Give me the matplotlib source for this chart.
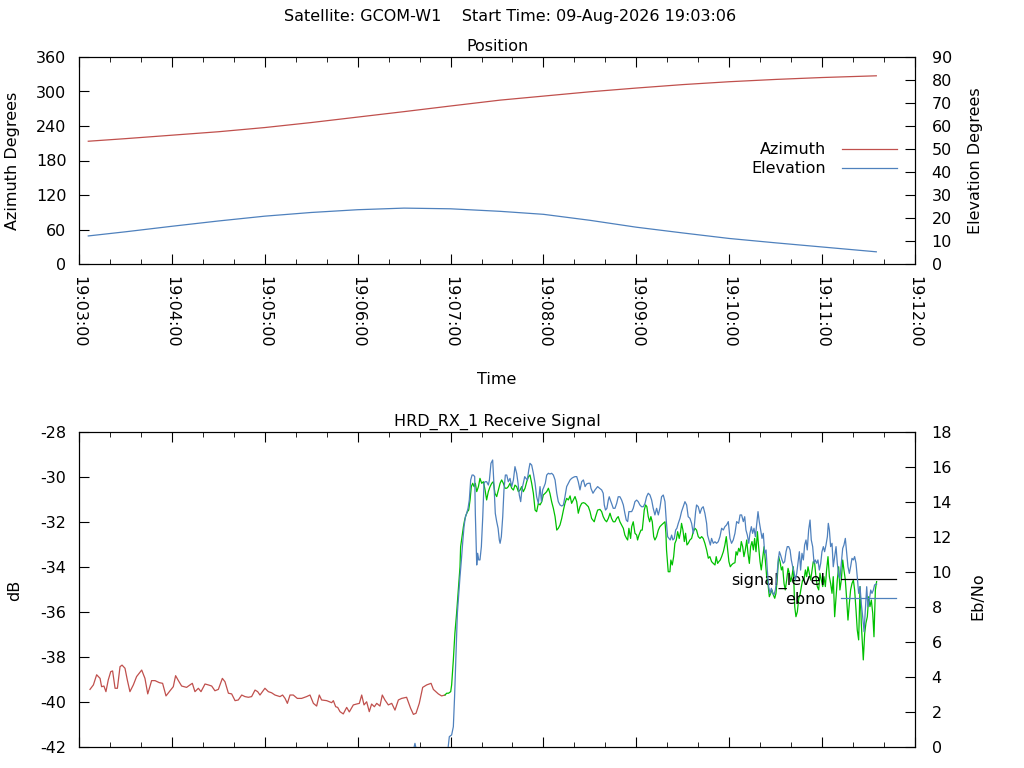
import matplotlib
matplotlib.use("Agg")
import matplotlib.pyplot as plt
import numpy as np
from matplotlib.ticker import MultipleLocator, FuncFormatter

# pass info
satellite = "GCOM-W1"
start_time = "09-Aug-2026 19:03:06"
receiver = "HRD_RX_1"

# position data, time in seconds after 19:03:00
pos_time = [6, 30, 60, 90, 120, 150, 180, 210, 240, 272, 300, 330, 360, 390, 420, 450, 480, 515]
azimuth = [213.5, 218, 224, 230, 237.3, 246, 255.5, 265, 274.8, 285, 292, 299.5, 306, 312, 317, 321, 324.3, 327.3]
elevation = [12.2, 14.0, 16.4, 18.7, 20.8, 22.4, 23.6, 24.3, 24.0, 22.9, 21.6, 19.0, 16.0, 13.5, 11.1, 9.2, 7.4, 5.3]

# signal level before lock (red)
unlocked_time = [7.1, 9.3, 11.4, 13.6, 14.6, 16.1, 17.4, 18.9, 20.5, 21.7, 23.3, 24.8, 26.5, 27.8, 29.7,
                 31.2, 32.9, 35.1, 37.2, 40.5, 42.6, 44.4, 46.9, 49.1, 51.9, 54.0, 56.2, 58.8, 60.9, 62.4,
                 64.2, 66.3, 69.5, 71.7, 73.2, 74.9, 77.1, 78.8, 81.4, 83.5, 85.7, 87.8, 90.0, 92.6, 94.3,
                 96.5, 98.6, 100.8, 102.9, 105.1, 107.2, 109.4, 111.5, 113.7, 115.4, 116.9, 120.1, 122.3,
                 124.4, 126.6, 129.8, 131.5, 133.1, 134.6, 136.3, 138.4, 141.0, 143.8, 147.0, 149.2, 151.4,
                 153.5, 155.2, 156.7, 160.0, 163.2, 164.3, 165.8, 167.1, 168.6, 170.7, 172.9, 174.6, 177.2,
                 179.3, 181.1, 182.6, 184.1, 185.8, 187.5, 189.0, 190.8, 192.3, 194.4, 195.9, 197.6, 199.8,
                 202.0, 204.1, 206.3, 208.4, 211.6, 214.2, 216.0, 217.7, 219.8, 222.0, 224.6, 227.4, 228.9,
                 232.1, 234.2, 236.4]
unlocked_db = [-39.44, -39.24, -38.79, -38.95, -39.32, -39.29, -39.54, -39.02, -38.65, -38.62, -39.39, -39.39,
               -38.43, -38.36, -38.50, -39.02, -39.54, -39.24, -38.87, -38.58, -38.95, -39.64, -39.05, -39.05,
               -39.14, -39.17, -39.73, -39.50, -39.32, -38.83, -39.05, -39.29, -39.35, -39.24, -39.17, -39.54,
               -39.39, -39.54, -39.20, -39.24, -39.29, -39.50, -39.44, -38.95, -39.10, -39.61, -39.64, -39.94,
               -39.91, -39.69, -39.76, -39.79, -39.76, -39.47, -39.54, -39.69, -39.39, -39.54, -39.59, -39.69,
               -39.76, -39.69, -39.84, -40.06, -39.69, -39.69, -39.84, -39.84, -39.76, -39.69, -40.06, -40.18,
               -39.69, -39.91, -39.94, -40.03, -39.94, -40.21, -40.24, -40.43, -40.53, -40.24, -40.44, -40.13,
               -40.09, -40.06, -39.69, -40.13, -39.99, -40.43, -40.09, -40.21, -40.06, -40.18, -39.69, -39.91,
               -40.13, -40.06, -40.36, -39.91, -39.84, -39.79, -40.28, -40.55, -40.50, -40.06, -39.35, -39.24,
               -39.17, -39.44, -39.64, -39.73, -39.69]

# signal level after lock (green)
locked_time = [236.4, 237.5, 238.7, 240.1, 240.7, 241.8, 242.8, 243.9, 245.0, 246.1, 246.5, 247.4, 248.3,
               249.1, 250.0, 250.9, 251.7, 252.6, 253.4, 254.3, 255.2, 256.0, 256.9, 258.0, 259.0, 260.1,
               261.2, 262.3, 263.3, 264.4, 265.5, 266.6, 267.6, 268.7, 269.8, 270.9, 272.0, 273.0, 274.1,
               275.2, 276.3, 277.3, 278.4, 279.5, 280.6, 281.6, 282.7, 283.8, 284.9, 285.9, 287.0, 288.1,
               289.2, 290.3, 291.3, 292.4, 293.5, 294.6, 295.6, 296.7, 297.8, 298.9, 299.9, 301.0, 302.1,
               303.2, 304.2, 305.3, 306.4, 307.5, 308.6, 309.6, 310.7, 311.8, 312.9, 313.9, 315.0, 316.1,
               317.2, 318.2, 319.3, 320.4, 321.5, 322.5, 323.6, 324.7, 325.8, 326.9, 327.9, 329.0, 330.1,
               331.1, 332.8, 333.7, 335.0, 336.5, 337.6, 338.6, 339.7, 340.8, 341.9, 343.0, 344.0, 345.1,
               346.2, 347.3, 348.3, 349.4, 350.5, 351.6, 352.6, 353.7, 354.4, 355.2, 356.3, 357.0, 358.0,
               359.1, 360.2, 360.8, 361.7, 363.0, 363.8, 364.5, 365.1, 366.0, 366.8, 367.7, 368.6, 369.4,
               370.3, 371.2, 372.0, 373.1, 374.2, 375.2, 376.3, 377.4, 378.5, 379.1, 379.5, 380.6, 381.7,
               382.3, 383.2, 384.1, 384.9, 385.8, 386.7, 387.7, 388.6, 389.2, 390.1, 391.0, 391.8, 392.7,
               393.5, 394.6, 395.7, 396.8, 397.9, 398.9, 400.0, 401.1, 402.2, 403.2, 404.3, 405.4, 406.5,
               407.5, 408.6, 409.7, 410.8, 411.6, 412.5, 413.3, 414.2, 415.1, 416.2, 417.2, 418.1, 419.0,
               419.8, 420.7, 421.5, 422.6, 423.7, 424.4, 425.2, 426.1, 427.0, 427.8, 428.7, 429.5, 430.4,
               431.3, 432.1, 433.0, 433.8, 434.7, 435.6, 436.4, 437.3, 438.2, 439.0, 439.9, 440.7, 441.6,
               442.5, 443.3, 444.2, 445.0, 445.9, 446.8, 447.6, 448.5, 449.4, 450.2, 451.1, 451.9, 452.8,
               453.7, 454.5, 455.4, 456.2, 457.1, 458.0, 458.8, 459.7, 460.5, 461.4, 462.3, 463.1, 464.0,
               464.9, 465.7, 466.6, 467.4, 468.3, 469.2, 470.0, 470.9, 471.7, 472.6, 473.5, 474.3, 475.2,
               476.0, 476.9, 477.8, 478.6, 479.5, 480.4, 481.2, 482.1, 482.9, 483.8, 484.7, 485.5, 486.4,
               487.2, 488.1, 489.0, 489.8, 490.7, 491.5, 492.4, 493.3, 494.1, 495.0, 495.9, 496.7, 497.6,
               498.4, 499.3, 500.2, 501.0, 501.9, 502.7, 503.6, 504.5, 505.3, 506.2, 506.6, 507.5, 508.3,
               509.2, 510.1, 510.9, 511.8, 512.7, 513.5, 514.4, 515.2]
locked_db = [-39.69, -39.61, -39.61, -39.54, -39.24, -38.13, -36.95, -36.06, -35.02, -33.99, -33.10, -32.65, -32.21,
             -31.91, -31.69, -31.54, -31.47, -31.02, -30.43, -30.28, -30.43, -30.28, -30.65, -30.43, -30.06, -30.28,
             -30.21, -30.58, -31.02, -30.65, -30.43, -30.28, -30.21, -30.73, -30.87, -30.58, -30.28, -30.13, -30.28,
             -30.50, -30.50, -30.43, -30.28, -30.50, -30.58, -30.36, -30.43, -30.65, -30.58, -30.43, -30.65, -30.50,
             -30.21, -29.99, -29.91, -30.28, -30.73, -31.47, -31.54, -31.17, -31.24, -31.10, -30.80, -30.73, -30.65,
             -30.50, -30.73, -31.10, -31.39, -31.76, -32.36, -32.28, -32.13, -31.84, -31.47, -31.17, -30.95, -31.02,
             -30.84, -31.17, -31.02, -30.87, -31.10, -31.61, -31.32, -31.17, -31.14, -31.17, -31.24, -31.32, -31.54,
             -31.84, -31.99, -31.76, -31.47, -31.44, -31.54, -31.76, -31.91, -31.99, -31.84, -31.61, -31.84, -31.99,
             -31.99, -31.84, -31.76, -31.99, -32.13, -32.28, -32.58, -32.73, -32.80, -32.28, -32.73, -32.21, -31.99,
             -32.50, -32.58, -32.80, -32.58, -32.36, -32.36, -31.91, -31.47, -31.24, -31.32, -31.76, -31.99, -31.76,
             -31.99, -32.65, -32.80, -32.65, -32.36, -32.21, -32.13, -32.06, -31.99, -32.50, -33.24, -34.21, -34.21,
             -33.69, -33.91, -33.54, -32.95, -32.80, -32.43, -32.73, -32.43, -32.06, -32.36, -32.87, -32.50, -33.02,
             -32.95, -32.80, -32.73, -32.43, -32.28, -32.36, -32.65, -32.73, -32.65, -32.73, -32.95, -33.24, -33.61,
             -33.54, -33.76, -33.84, -33.91, -33.54, -33.84, -33.76, -33.69, -33.54, -33.32, -33.02, -32.65, -33.24,
             -33.76, -33.99, -33.91, -33.84, -33.81, -33.32, -33.47, -33.17, -33.32, -32.87, -33.10, -33.54, -33.24,
             -32.80, -33.39, -33.84, -33.10, -32.87, -33.24, -32.73, -33.32, -32.43, -33.10, -33.76, -34.13, -33.61,
             -33.10, -33.69, -34.43, -34.73, -35.32, -35.17, -35.02, -35.24, -35.39, -35.17, -34.43, -33.54, -33.76,
             -34.13, -33.99, -34.73, -35.02, -34.58, -34.06, -34.28, -34.65, -34.43, -33.99, -35.76, -36.21, -35.99,
             -35.39, -35.24, -34.87, -34.58, -34.58, -34.13, -34.43, -33.99, -34.28, -34.58, -34.13, -33.76, -33.84,
             -34.43, -34.87, -35.02, -34.28, -34.58, -34.87, -34.43, -34.87, -34.13, -33.54, -34.43, -34.73, -35.17,
             -34.43, -36.21, -35.32, -34.58, -33.99, -35.02, -34.58, -33.69, -34.13, -34.58, -35.47, -36.36, -35.61,
             -35.02, -34.73, -34.58, -35.02, -35.91, -36.80, -37.24, -34.87, -36.50, -37.69, -38.13, -36.95, -36.50,
             -36.21, -35.32, -35.76, -35.47, -36.06, -37.10, -35.02, -34.65]

# Eb/No (values below 0 before lock are clipped off the plot)
ebno_time = [7, 60, 120, 180, 214.5, 217.0, 219.5, 237.0, 238.5, 239.2, 240.7, 241.8, 242.6, 243.5, 244.4, 245.3,
             246.1, 247.0, 247.8, 248.7, 249.6, 250.4, 251.3, 252.1, 253.0, 253.9, 254.7, 255.6, 256.0, 256.5,
             256.9, 257.5, 258.2, 259.0, 259.9, 260.8, 261.6, 262.3, 263.3, 264.4, 265.1, 265.5, 266.1, 267.2,
             268.1, 268.9, 269.8, 270.7, 271.5, 272.0, 272.8, 273.7, 274.5, 275.4, 276.3, 277.3, 278.4, 279.5,
             280.6, 281.6, 282.7, 283.6, 284.4, 285.3, 286.2, 287.0, 287.9, 288.7, 289.6, 290.5, 291.3, 292.4,
             293.5, 294.6, 295.6, 296.7, 297.8, 298.7, 299.5, 300.4, 301.2, 302.1, 303.2, 304.2, 305.3, 306.4,
             307.5, 308.6, 309.6, 310.7, 311.8, 312.9, 313.9, 315.0, 316.1, 317.2, 318.2, 319.3, 320.4, 321.5,
             322.5, 323.6, 324.7, 325.8, 326.9, 327.9, 329.0, 330.1, 330.7, 332.0, 333.3, 335.0, 336.3, 337.6,
             338.6, 339.3, 340.1, 341.0, 341.9, 342.5, 343.2, 344.0, 345.1, 346.2, 347.3, 348.3, 349.4, 350.5,
             351.6, 352.6, 353.5, 354.4, 355.2, 356.1, 357.0, 358.0, 359.1, 360.2, 361.2, 362.3, 363.4, 364.5,
             365.6, 366.6, 367.7, 368.8, 369.9, 370.9, 372.0, 373.1, 374.2, 375.2, 376.3, 377.4, 378.5, 379.3,
             380.2, 381.1, 381.9, 382.8, 383.6, 384.5, 385.4, 386.2, 387.1, 388.2, 389.2, 390.3, 391.4, 392.5,
             393.5, 394.6, 395.7, 396.8, 397.4, 398.3, 398.9, 400.0, 401.1, 402.2, 403.2, 404.3, 405.4, 406.0,
             406.9, 407.8, 408.6, 409.7, 410.8, 411.8, 412.9, 414.0, 415.1, 416.2, 417.2, 418.3, 419.4, 420.5,
             421.5, 422.6, 423.7, 424.8, 426.1, 427.0, 428.0, 429.1, 430.0, 430.8, 431.7, 432.6, 433.4, 434.3,
             435.1, 436.0, 436.9, 437.7, 438.6, 439.4, 440.3, 441.2, 442.0, 442.9, 443.8, 444.6, 445.5, 446.3,
             447.2, 448.1, 448.9, 449.8, 450.6, 451.5, 452.4, 453.2, 454.1, 454.9, 455.8, 456.7, 457.5, 458.4,
             459.3, 460.1, 461.0, 461.8, 462.7, 463.6, 464.4, 465.3, 466.1, 467.0, 467.9, 468.7, 469.6, 470.4,
             471.3, 472.2, 473.0, 473.9, 474.8, 475.6, 476.5, 477.3, 478.2, 479.1, 479.9, 480.8, 481.6, 482.5,
             483.4, 484.0, 484.7, 485.5, 486.4, 487.2, 488.1, 489.0, 489.8, 490.7, 491.5, 492.4, 493.3, 494.1,
             495.0, 495.9, 496.7, 497.6, 498.4, 499.3, 500.2, 501.0, 501.9, 502.7, 503.6, 504.5, 505.3, 506.2,
             507.1, 507.9, 508.8, 509.6, 510.5, 511.4, 512.2, 513.1, 513.9, 514.8, 515.2]
ebno = [-1.0, -1.0, -1.0, -1.0, -0.8, 0.21, -0.8, -0.5, 0.02, 0.59, 0.69, 1.16, 2.88, 5.35, 7.64, 8.78,
        9.73, 10.69, 11.64, 12.59, 13.16, 13.35, 13.64, 14.11, 15.26, 15.54, 15.54, 15.45, 13.35, 11.83,
        10.40, 11.07, 10.69, 10.69, 11.45, 13.16, 15.07, 15.16, 15.16, 14.97, 15.26, 15.64, 16.21, 16.40,
        14.88, 13.35, 12.88, 12.50, 11.83, 11.64, 12.02, 13.16, 14.69, 15.54, 15.54, 15.16, 15.35, 14.88,
        15.26, 16.02, 15.64, 15.07, 14.40, 14.02, 14.78, 15.07, 15.45, 15.35, 15.26, 15.83, 16.21, 16.11,
        15.64, 15.07, 14.30, 13.92, 14.88, 14.02, 14.69, 14.88, 15.07, 15.54, 15.64, 15.60, 15.64, 15.54,
        15.26, 14.50, 14.02, 13.83, 13.77, 13.83, 14.30, 14.88, 15.07, 15.26, 15.35, 15.41, 15.45, 15.45,
        15.16, 14.69, 15.16, 15.26, 14.88, 15.03, 15.07, 15.07, 14.78, 14.50, 14.69, 14.88, 14.78, 14.69,
        14.50, 13.83, 13.54, 13.64, 14.11, 14.30, 14.11, 13.92, 13.64, 13.64, 13.92, 14.30, 14.30, 14.11,
        13.83, 13.35, 12.97, 12.88, 13.45, 13.45, 13.45, 13.64, 14.02, 14.11, 14.02, 13.83, 13.73, 13.73,
        13.92, 14.30, 14.50, 14.40, 14.11, 13.64, 13.26, 13.64, 13.26, 13.64, 14.30, 14.40, 14.02, 12.97,
        12.02, 11.92, 11.83, 12.11, 11.83, 11.92, 12.40, 12.50, 12.78, 13.07, 13.45, 13.73, 14.02, 13.83,
        13.16, 13.07, 12.78, 12.21, 12.59, 13.45, 13.83, 13.73, 13.35, 13.64, 13.73, 13.35, 12.78, 12.11,
        11.83, 11.54, 11.92, 11.64, 11.73, 11.64, 11.73, 12.02, 12.50, 12.40, 12.59, 12.69, 12.88, 11.92,
        11.64, 11.83, 12.21, 12.88, 12.78, 13.26, 13.26, 12.88, 13.16, 12.40, 12.11, 11.64, 12.21, 12.59,
        12.21, 12.50, 12.02, 12.69, 13.45, 12.88, 12.40, 11.92, 12.21, 11.07, 11.26, 10.11, 9.16, 8.78,
        9.07, 8.78, 8.69, 8.97, 9.54, 10.50, 11.16, 10.97, 10.69, 10.50, 10.59, 11.16, 11.45, 11.45,
        11.26, 10.69, 10.30, 10.02, 9.54, 9.92, 10.50, 11.16, 10.11, 11.07, 10.69, 11.54, 11.83, 11.26,
        12.40, 12.97, 11.83, 11.45, 10.50, 10.69, 10.50, 10.69, 10.11, 10.50, 11.16, 11.45, 11.16, 11.54,
        12.02, 12.78, 12.40, 11.45, 11.64, 10.30, 10.88, 11.45, 10.50, 9.83, 9.64, 10.50, 11.35, 11.54,
        11.92, 11.07, 10.30, 9.92, 10.30, 10.78, 10.69, 10.88, 10.50, 9.73, 8.78, 9.16, 8.21, 7.45,
        6.59, 7.83, 9.16, 8.02, 8.40, 8.97, 8.78, 8.97, 9.26, 9.31, 9.31]

red = "#c0504d"
blue = "#4f81bd"
green = "#00c000"

plt.rcParams["font.family"] = "DejaVu Sans"
plt.rcParams["font.size"] = 11.5
plt.rcParams["axes.titlesize"] = 11.5
plt.rcParams["axes.unicode_minus"] = False  # gnuplot style "-28"

def time_fmt(s, pos):
    s = int(round(s))
    return "19:%02d:%02d" % (3 + s // 60, s % 60)

def style_x(ax):
    ax.set_xlim(0, 540)
    ax.xaxis.set_major_locator(MultipleLocator(60))
    ax.xaxis.set_minor_locator(MultipleLocator(20))
    ax.xaxis.set_major_formatter(FuncFormatter(time_fmt))
    ax.tick_params(axis="x", which="major", direction="in", length=7, top=True, pad=9)
    ax.tick_params(axis="x", which="minor", direction="in", length=3.5, top=True)

fig = plt.figure(figsize=(10.24, 7.68), dpi=100)
fig.text(0.498, 1 - 17 / 768, "Satellite: %s    Start Time: %s" % (satellite, start_time),
         ha="center", va="center")

# top: position
ax1 = fig.add_axes([79 / 1024, 1 - 264 / 768, 836 / 1024, 207 / 768])
ax1b = ax1.twinx()
l1, = ax1.plot(pos_time, azimuth, color=red, lw=0.9, label="Azimuth")
l2, = ax1b.plot(pos_time, elevation, color=blue, lw=0.9, label="Elevation")
ax1.set_ylim(0, 360)
ax1.yaxis.set_major_locator(MultipleLocator(60))
ax1b.set_ylim(0, 90)
ax1b.yaxis.set_major_locator(MultipleLocator(10))
style_x(ax1)
for lab in ax1.get_xticklabels():
    lab.set_rotation(270)
    lab.set_va("top")
    lab.set_ha("center")
ax1.tick_params(axis="y", direction="in", length=7, pad=9)
ax1b.tick_params(axis="y", direction="in", length=7, pad=12)
ax1.set_title("Position", pad=4)
ax1.set_xlabel("Time")
ax1.xaxis.set_label_coords(0.5, -0.556)
ax1.xaxis.label.set_va("center")
ax1.set_ylabel("Azimuth Degrees")
ax1.yaxis.set_label_coords(-0.0793, 0.5)
ax1.yaxis.label.set_va("center")
ax1b.set_ylabel("Elevation Degrees")
ax1b.yaxis.set_label_coords(1.0718, 0.5)
ax1b.yaxis.label.set_va("center")
leg = ax1b.legend(handles=[l1, l2], loc="center right", bbox_to_anchor=(0.978, 0.505),
                  frameon=False, markerfirst=False, handlelength=3.4, labelspacing=0.25,
                  borderpad=0, borderaxespad=0, handletextpad=1.0)

# bottom: receive signal
ax2 = fig.add_axes([79 / 1024, 1 - 747 / 768, 836 / 1024, 315 / 768])
ax2b = ax2.twinx()
ax2.plot(unlocked_time, unlocked_db, color=red, lw=0.9)
ax2.plot(locked_time, locked_db, color=green, lw=0.9)
l3, = ax2.plot([], [], color="black", lw=0.9, label="signal_level")
l4, = ax2b.plot(ebno_time, ebno, color=blue, lw=0.9, label="ebno")
ax2.set_ylim(-42, -28)
ax2.yaxis.set_major_locator(MultipleLocator(2))
ax2b.set_ylim(0, 18)
ax2b.yaxis.set_major_locator(MultipleLocator(2))
style_x(ax2)
ax2.tick_params(axis="x", labelbottom=False)
ax2.tick_params(axis="y", direction="in", length=7, pad=9)
ax2b.tick_params(axis="y", direction="in", length=7, pad=12)
ax2.set_title("%s Receive Signal" % receiver, pad=4.7)
ax2.set_ylabel("dB")
ax2.yaxis.set_label_coords(-0.0775, 0.498)
ax2.yaxis.label.set_va("center")
ax2b.set_ylabel("Eb/No")
ax2b.yaxis.set_label_coords(1.0754, 0.478)
ax2b.yaxis.label.set_va("center")
leg2 = ax2b.legend(handles=[l3, l4], loc="center right", bbox_to_anchor=(0.977, 0.5),
                   frameon=False, markerfirst=False, handlelength=3.4, labelspacing=0.2,
                   borderpad=0, borderaxespad=0, handletextpad=1.0)
leg2.set_zorder(1)

fig.savefig("out.png", dpi=100)
